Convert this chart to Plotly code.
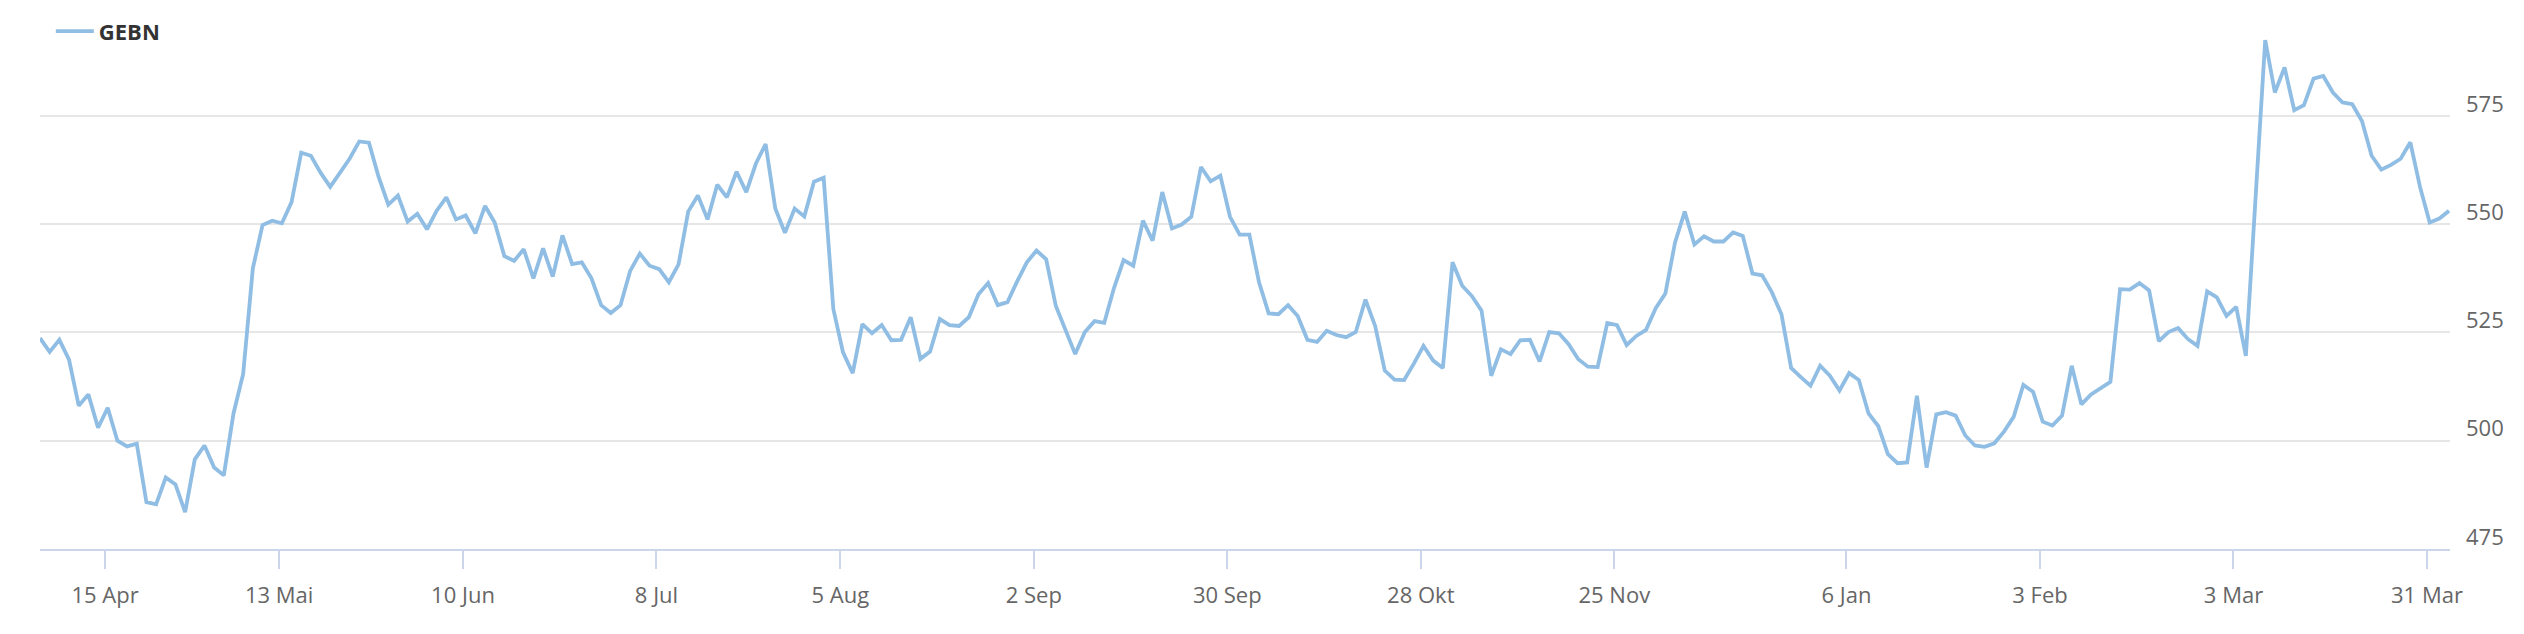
import pandas as pd
import plotly.graph_objects as go

series_name = "GEBN"

# Swiss exchange (SIX) closed days inside the period
holidays = ["2024-05-01", "2024-05-09", "2024-05-20", "2024-08-01",
            "2024-12-24", "2024-12-25", "2024-12-26", "2024-12-31",
            "2025-01-01", "2025-01-02"]

trading_days = [d for d in pd.bdate_range("2024-04-04", "2025-04-02")
                if d.strftime("%Y-%m-%d") not in holidays]
dates = [d.strftime("%Y-%m-%d") for d in trading_days]

prices = [
    523.7, 520.5, 523.3, 518.7, 508.1, 510.7, 503.0, 507.6, 500.0, 498.7,
    499.3, 485.8, 485.3, 491.5, 489.9, 483.5, 495.7, 498.9, 493.8, 492.0,
    506.3, 515.4, 539.8, 549.8, 550.8, 550.2, 555.1, 566.5, 565.8, 561.9,
    558.6, 561.9, 565.1, 569.1, 568.8, 560.9, 554.5, 556.6, 550.6, 552.4,
    548.8, 553.1, 556.2, 551.1, 552.0, 547.9, 554.2, 550.4, 542.6, 541.5,
    544.2, 537.5, 544.4, 537.9, 547.4, 540.8, 541.2, 537.5, 531.3, 529.5,
    531.3, 539.2, 543.2, 540.4, 539.6, 536.6, 540.7, 552.9, 556.6, 551.1,
    559.1, 556.2, 562.1, 557.4, 564.0, 568.5, 553.6, 548.0, 553.6, 551.8,
    559.8, 560.7, 530.4, 520.4, 515.6, 526.9, 524.8, 526.7, 523.2, 523.3,
    528.5, 518.9, 520.6, 528.1, 526.7, 526.5, 528.5, 533.8, 536.4, 531.3,
    532.0, 536.8, 541.2, 543.9, 541.9, 531.1, 525.6, 520.0, 525.1, 527.6,
    527.2, 535.2, 541.7, 540.4, 550.8, 546.2, 557.4, 549.0, 549.9, 551.7,
    563.2, 559.9, 561.2, 551.7, 547.6, 547.6, 536.6, 529.4, 529.2, 531.3,
    528.8, 523.3, 522.8, 525.4, 524.4, 523.9, 525.1, 532.6, 526.5, 516.2,
    514.1, 514.0, 517.8, 521.9, 518.5, 516.8, 541.2, 535.8, 533.4, 530.0,
    515.0, 521.1, 520.0, 523.2, 523.3, 518.3, 525.1, 524.8, 522.3, 518.8,
    517.1, 517.0, 527.2, 526.7, 522.1, 524.2, 525.6, 530.6, 534.0, 545.8,
    552.9, 545.3, 547.2, 546.0, 546.0, 548.1, 547.3, 538.6, 538.2, 534.3,
    529.2, 516.8, 514.7, 512.7, 517.3, 515.0, 511.6, 515.6, 514.0, 506.3,
    503.4, 496.9, 494.8, 495.0, 510.4, 493.8, 506.1, 506.6, 505.8, 501.2,
    498.9, 498.6, 499.4, 502.1, 505.5, 512.9, 511.3, 504.4, 503.5, 505.8,
    517.3, 508.4, 510.7, 512.2, 513.6, 535.0, 534.9, 536.4, 534.7, 523.0,
    525.1, 526.0, 523.5, 521.9, 534.5, 533.1, 528.8, 530.9, 519.6, 556.0,
    592.5, 580.4, 586.2, 576.3, 577.5, 583.6, 584.2, 580.4, 578.1, 577.7,
    573.8, 565.8, 562.6, 563.7, 565.1, 568.9, 558.6, 550.4, 551.3, 553.1,
]

tick_dates = ["2024-04-15", "2024-05-13", "2024-06-10", "2024-07-08",
              "2024-08-05", "2024-09-02", "2024-09-30", "2024-10-28",
              "2024-11-25", "2025-01-06", "2025-02-03", "2025-03-03",
              "2025-03-31"]
tick_labels = ["15 Apr", "13 Mai", "10 Jun", "8 Jul", "5 Aug", "2 Sep",
               "30 Sep", "28 Okt", "25 Nov", "6 Jan", "3 Feb", "3 Mar",
               "31 Mar"]
y_ticks = [475, 500, 525, 550, 575]

# ordinal axis: one slot per trading day; midnight ticks fall just before the day's close
midnight_offset = 0.28
x_idx = list(range(len(dates)))
tick_pos = [dates.index(d) - midnight_offset for d in tick_dates]

fig = go.Figure()
fig.add_trace(go.Scatter(
    x=x_idx, y=prices, customdata=dates, mode="lines", name=series_name,
    line=dict(color="#8fbde3", width=3.8),
    hovertemplate="%{customdata}: %{y}<extra></extra>",
))

# the page body has an 8px default margin, so the figure is sized to fit inside it
fig.update_layout(
    width=2516, height=626,
    margin=dict(l=32, r=74, t=2, b=84.5, pad=0),
    paper_bgcolor="white", plot_bgcolor="white",
    font=dict(family="Open Sans", size=22, color="#666666"),
    showlegend=True,
    legend=dict(
        x=0.0045, xanchor="left", y=0.975, yanchor="middle",
        orientation="h", bgcolor="rgba(0,0,0,0)", itemwidth=38,
        font=dict(family="Open Sans", size=22, color="#333333", weight="bold"),
    ),
    xaxis=dict(
        range=[0, len(dates) - 1 + 0.1],
        tickmode="array", tickvals=tick_pos, ticktext=tick_labels,
        showgrid=False, zeroline=False,
        showline=True, linecolor="#ccd6eb", linewidth=2,
        ticks="outside", ticklen=18, tickwidth=2, tickcolor="#ccd6eb",
        ticklabelstandoff=8,
        tickfont=dict(family="Open Sans", size=22, color="#666666"),
    ),
    yaxis=dict(
        side="right", range=[475, 597.6],
        tickmode="array", tickvals=y_ticks,
        showgrid=True, gridcolor="#e6e6e6", gridwidth=2,
        zeroline=False, showline=False, ticks="",
        ticklabelshift=-12, ticklabelstandoff=15,
        tickfont=dict(family="Open Sans", size=22, color="#666666"),
    ),
)

fig.write_html("out.html")
